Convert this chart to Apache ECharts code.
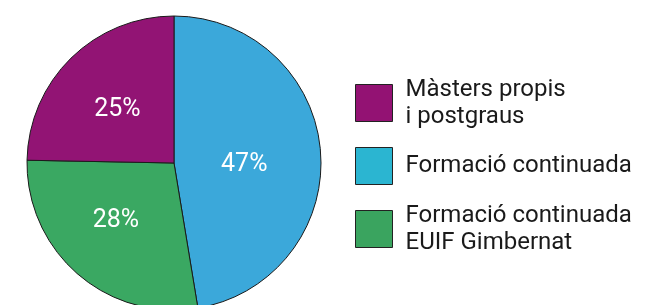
<!DOCTYPE html>
<html>
<head>
<meta charset="utf-8">
<script src="https://cdn.jsdelivr.net/npm/echarts@6/dist/echarts.min.js"></script>
<style>
  html, body { margin: 0; padding: 0; background: #fff; }
  #chart { width: 647px; height: 305px; }
</style>
</head>
<body>
<div id="chart"></div>
<script>
// slices, clockwise from 12 o'clock (shares, labels rounded)
const sliceNames = ['Formació continuada', 'Formació continuada\nEUIF Gimbernat', 'Màsters propis\ni postgraus']
const sliceValues = [47.4, 27.9, 24.7]
const sliceColors = ['#3ba8da', '#3aa862', '#921474']

// legend order and its own swatch colours
const legendNames = ['Màsters propis\ni postgraus', 'Formació continuada', 'Formació continuada\nEUIF Gimbernat']
const legendColors = ['#931273', '#2bb5d1', '#3aa45f']

// nudge the inside labels a bit, like the original
const labelOffsets = [[-6, 8], [-8, 0], [-3, 1]]

const chart = echarts.init(document.getElementById('chart'))

chart.setOption({
  animation: false,
  color: sliceColors,
  legend: {
    orient: 'vertical',
    left: 355,
    top: 76,
    padding: 0,
    itemWidth: 37,
    itemHeight: 37,
    itemGap: 17,
    icon: 'rect',
    selectedMode: false,
    textStyle: {
      fontFamily: 'Roboto',
      fontSize: 24,
      lineHeight: 27,
      color: '#1a1a1a',
      padding: [0, 0, 0, 8]
    },
    data: legendNames.map((name, i) => ({
      name: name,
      itemStyle: { color: legendColors[i], borderColor: '#222', borderWidth: 1 }
    }))
  },
  series: [
    {
      type: 'pie',
      center: [174, 163],
      radius: [0, 147],
      startAngle: 90,
      clockwise: true,
      avoidLabelOverlap: false,
      itemStyle: {
        borderColor: '#1a1a1a',
        borderWidth: 1
      },
      label: {
        show: true,
        position: 'inside',
        formatter: p => Math.round(p.value) + '%',
        color: '#fff',
        fontFamily: 'Roboto',
        fontSize: 25
      },
      labelLine: { show: false },
      emphasis: { disabled: true },
      data: sliceNames.map((name, i) => ({
        name: name,
        value: sliceValues[i],
        label: { offset: labelOffsets[i] }
      }))
    }
  ]
})
</script>
</body>
</html>
